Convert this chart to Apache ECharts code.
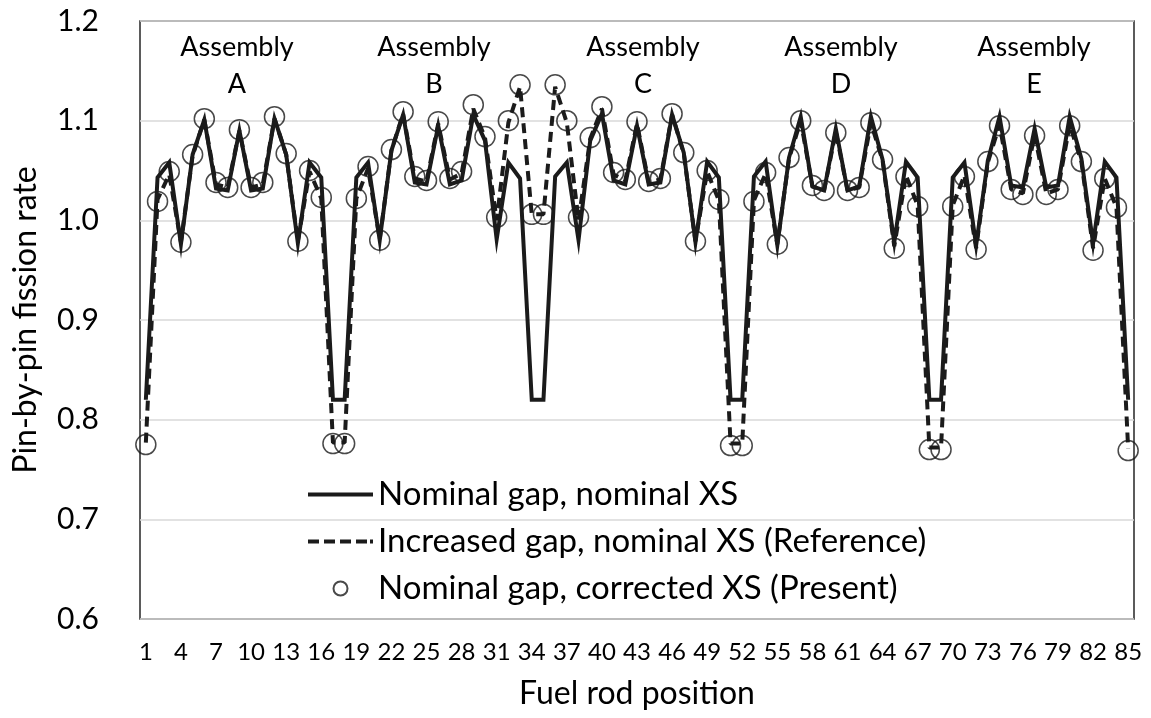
<!DOCTYPE html>
<html>
<head>
<meta charset="utf-8">
<title>Pin-by-pin fission rate</title>
<script src="https://cdn.jsdelivr.net/npm/echarts@6/dist/echarts.min.js"></script>
<style>
  html, body { margin: 0; padding: 0; background: #fff; }
  #mainChart { width: 1151px; height: 718px; }
</style>
</head>
<body>
<div id="mainChart"></div>
<script>
// Fuel rod positions 1..85 (5 assemblies x 17 pins)
const positions = [];
for (let i = 1; i <= 85; i++) positions.push(String(i));

// Nominal gap, nominal XS
const nominalGap = [
  0.820, 1.043, 1.058, 0.976, 1.066, 1.101, 1.032, 1.030, 1.090, 1.030, 1.032, 1.102, 1.066, 0.977, 1.058, 1.043, 0.820,
  0.820, 1.043, 1.058, 0.980, 1.070, 1.106, 1.038, 1.036, 1.095, 1.036, 1.040, 1.106, 1.080, 0.981, 1.058, 1.042, 0.820,
  0.820, 1.044, 1.058, 0.980, 1.080, 1.107, 1.040, 1.036, 1.095, 1.036, 1.038, 1.106, 1.068, 0.978, 1.059, 1.043, 0.820,
  0.820, 1.044, 1.059, 0.975, 1.063, 1.104, 1.034, 1.030, 1.092, 1.030, 1.034, 1.104, 1.061, 0.978, 1.059, 1.043, 0.820,
  0.820, 1.043, 1.058, 0.975, 1.060, 1.104, 1.035, 1.033, 1.092, 1.033, 1.035, 1.104, 1.062, 0.977, 1.059, 1.043, 0.820
];

// Increased gap, nominal XS (Reference)
const increasedGap = [
  0.777, 1.021, 1.046, 0.978, 1.065, 1.101, 1.036, 1.033, 1.090, 1.033, 1.036, 1.102, 1.066, 0.979, 1.049, 1.022, 0.777,
  0.777, 1.022, 1.052, 0.981, 1.070, 1.107, 1.042, 1.039, 1.097, 1.041, 1.047, 1.112, 1.083, 1.000, 1.098, 1.134, 1.006,
  1.006, 1.134, 1.098, 1.000, 1.082, 1.112, 1.046, 1.040, 1.097, 1.038, 1.041, 1.106, 1.067, 0.979, 1.049, 1.020, 0.776,
  0.776, 1.020, 1.047, 0.976, 1.062, 1.100, 1.034, 1.030, 1.089, 1.030, 1.033, 1.098, 1.060, 0.974, 1.045, 1.015, 0.772,
  0.772, 1.015, 1.045, 0.972, 1.058, 1.096, 1.031, 1.027, 1.086, 1.027, 1.031, 1.096, 1.059, 0.972, 1.042, 1.013, 0.771
];

// Nominal gap, corrected XS (Present)
const correctedXS = [
  0.775, 1.019, 1.049, 0.978, 1.066, 1.102, 1.038, 1.033, 1.091, 1.033, 1.038, 1.104, 1.067, 0.979, 1.050, 1.023, 0.776,
  0.776, 1.022, 1.054, 0.980, 1.071, 1.109, 1.044, 1.040, 1.099, 1.042, 1.049, 1.116, 1.084, 1.003, 1.100, 1.136, 1.006,
  1.006, 1.136, 1.100, 1.003, 1.083, 1.114, 1.048, 1.041, 1.099, 1.039, 1.042, 1.107, 1.068, 0.979, 1.050, 1.021, 0.774,
  0.774, 1.019, 1.048, 0.976, 1.063, 1.100, 1.035, 1.030, 1.088, 1.030, 1.033, 1.098, 1.061, 0.972, 1.044, 1.014, 0.770,
  0.770, 1.014, 1.044, 0.971, 1.059, 1.095, 1.031, 1.026, 1.085, 1.026, 1.031, 1.095, 1.059, 0.970, 1.042, 1.013, 0.769
];

const seriesNames = [
  'Nominal gap, nominal XS',
  'Increased gap, nominal XS (Reference)',
  'Nominal gap, corrected XS (Present)'
];

// Assembly labels (text + horizontal pixel centre)
const assemblyLetters = ['A', 'B', 'C', 'D', 'E'];
const assemblyLabelX = [237, 434, 643, 841, 1034];

const FONT = 'Lato, "Open Sans", sans-serif';
const INK = '#1b1b1b';

// legend icons drawn as plain paths (solid bar / dashes)
const ICON_SOLID = 'path://M0,0H65V4H0Z';
const ICON_DASH = 'path://M0,0H11V4H0Z M16,0H27V4H16Z M32,0H43V4H32Z M48,0H59V4H48Z M62,0H65V4H62Z';

let myChart = null;
function initChart() {
  const chartDom = document.getElementById('mainChart');
  myChart = echarts.init(chartDom, null, { renderer: 'canvas' });

  const assemblyGraphics = assemblyLetters.map((letter, i) => ({
    type: 'text',
    x: assemblyLabelX[i],
    y: 66,
    z: 100,
    style: {
      text: 'Assembly\n' + letter,
      fill: '#000',
      font: '27px ' + FONT,
      lineHeight: 37,
      align: 'center',
      verticalAlign: 'middle'
    }
  }));

  const option = {
    backgroundColor: '#fff',
    animation: false,
    textStyle: { fontFamily: FONT },
    grid: {
      left: 140, right: 17, top: 21, bottom: 99,
      show: true,
      borderColor: '#333',
      borderWidth: 1.6
    },
    legend: {
      orient: 'vertical',
      left: 303,
      top: 466,
      itemWidth: 65,
      itemHeight: 14,
      itemGap: 0,
      symbolKeepAspect: true,
      textStyle: { fontSize: 33, color: '#000', fontFamily: FONT, lineHeight: 47 },
      data: [
        { name: seriesNames[0], icon: ICON_SOLID },
        { name: seriesNames[1], icon: ICON_DASH },
        { name: seriesNames[2], icon: 'circle' }
      ]
    },
    xAxis: {
      type: 'category',
      data: positions,
      boundaryGap: true,
      name: 'Fuel rod position',
      nameLocation: 'middle',
      nameGap: 59,
      nameTextStyle: { fontSize: 32, color: '#000', fontFamily: FONT },
      axisLine: { show: false },
      axisTick: { show: false },
      axisLabel: { interval: 2, fontSize: 24, color: '#000', margin: 21, fontFamily: FONT },
      splitLine: { show: false }
    },
    yAxis: {
      type: 'value',
      min: 0.6,
      max: 1.2,
      interval: 0.1,
      name: 'Pin-by-pin fission rate',
      nameLocation: 'middle',
      nameGap: 98,
      nameTextStyle: { fontSize: 32, color: '#000', fontFamily: FONT },
      axisLine: { show: false },
      axisTick: { show: false },
      axisLabel: {
        fontSize: 30, color: '#000', margin: 41, fontFamily: FONT,
        formatter: v => v.toFixed(1)
      },
      splitLine: { lineStyle: { color: '#d9d9d9', width: 1.5 } }
    },
    graphic: assemblyGraphics,
    series: [
      {
        name: seriesNames[0],
        type: 'line',
        data: nominalGap,
        symbol: 'none',
        lineStyle: { color: INK, width: 4, join: 'miter' },
        itemStyle: { color: INK },
        z: 3
      },
      {
        name: seriesNames[1],
        type: 'line',
        data: increasedGap,
        symbol: 'none',
        lineStyle: { color: INK, width: 4, type: [10, 6] },
        itemStyle: { color: INK },
        z: 2
      },
      {
        name: seriesNames[2],
        type: 'scatter',
        data: correctedXS,
        symbol: 'circle',
        symbolSize: 20,
        itemStyle: { color: 'rgba(255,255,255,0)', borderColor: INK, borderWidth: 1.5 },
        z: 4
      }
    ]
  };
  myChart.setOption(option);
}

window.onload = () => {
  initChart();
  window.addEventListener('resize', () => myChart && myChart.resize());
};
</script>
</body>
</html>
